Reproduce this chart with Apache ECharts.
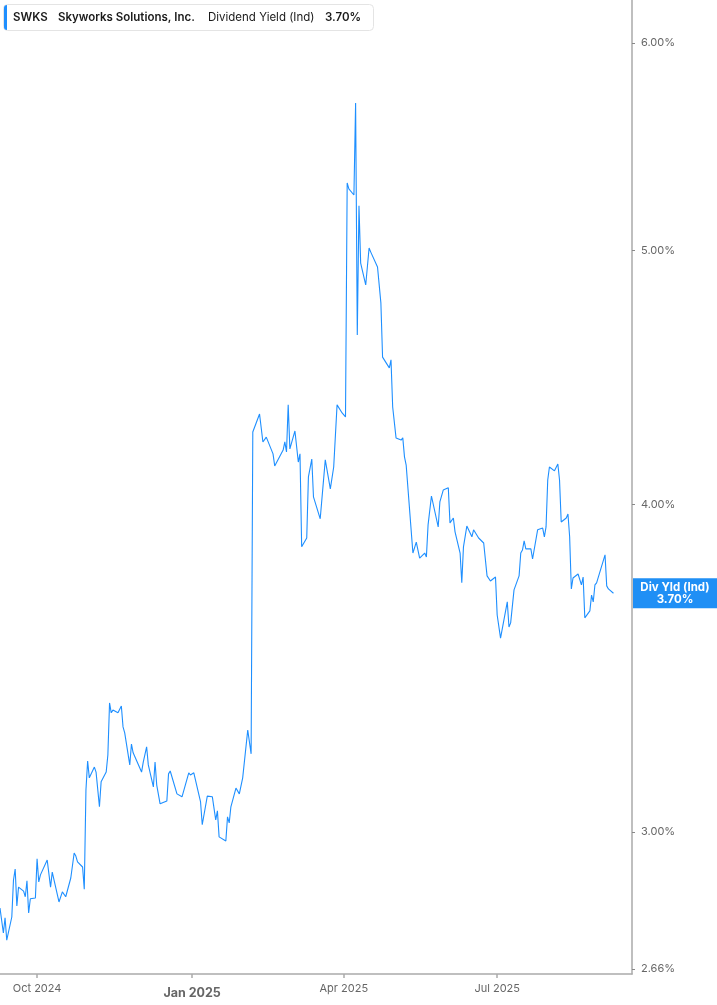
<!DOCTYPE html>
<html>
<head>
<meta charset="utf-8">
<script src="https://cdn.jsdelivr.net/npm/echarts@6/dist/echarts.min.js"></script>
<style>
html,body{margin:0;padding:0;background:#fff;}
#chart{width:717px;height:1005px;}
</style>
</head>
<body>
<div id="chart"></div>
<script>
const dates = [
'2024-09-09','2024-09-10','2024-09-11','2024-09-12','2024-09-13','2024-09-16','2024-09-17','2024-09-18','2024-09-19','2024-09-20',
'2024-09-23','2024-09-24','2024-09-25','2024-09-26','2024-09-27','2024-09-30','2024-10-01','2024-10-02','2024-10-03','2024-10-04',
'2024-10-07','2024-10-09','2024-10-10','2024-10-14','2024-10-16','2024-10-17','2024-10-18','2024-10-21','2024-10-23','2024-10-24',
'2024-10-25','2024-10-28','2024-10-29','2024-10-30','2024-10-31','2024-11-01','2024-11-04','2024-11-05','2024-11-07','2024-11-08',
'2024-11-11','2024-11-12','2024-11-13','2024-11-14','2024-11-15','2024-11-18','2024-11-20','2024-11-21','2024-11-22','2024-11-25',
'2024-11-26','2024-11-27','2024-12-02','2024-12-03','2024-12-04','2024-12-05','2024-12-06','2024-12-09','2024-12-10','2024-12-11',
'2024-12-12','2024-12-13','2024-12-17','2024-12-18','2024-12-19','2024-12-23','2024-12-26','2024-12-27','2024-12-30','2024-12-31',
'2025-01-02','2025-01-06','2025-01-07','2025-01-08','2025-01-10','2025-01-13','2025-01-15','2025-01-16','2025-01-17','2025-01-21',
'2025-01-22','2025-01-23','2025-01-24','2025-01-27','2025-01-29','2025-01-31','2025-02-03','2025-02-05','2025-02-06','2025-02-07',
'2025-02-10','2025-02-12','2025-02-14','2025-02-18','2025-02-19','2025-02-24','2025-02-25','2025-02-26','2025-02-27','2025-02-28',
'2025-03-03','2025-03-05','2025-03-06','2025-03-07','2025-03-10','2025-03-11','2025-03-13','2025-03-14','2025-03-18','2025-03-21',
'2025-03-24','2025-03-26','2025-03-28','2025-03-31','2025-04-02','2025-04-03','2025-04-04','2025-04-07','2025-04-08','2025-04-09',
'2025-04-10','2025-04-11','2025-04-14','2025-04-16','2025-04-17','2025-04-21','2025-04-23','2025-04-24','2025-04-25','2025-04-28',
'2025-04-29','2025-04-30','2025-05-02','2025-05-05','2025-05-06','2025-05-07','2025-05-08','2025-05-12','2025-05-14','2025-05-15',
'2025-05-16','2025-05-19','2025-05-20','2025-05-21','2025-05-23','2025-05-27','2025-05-28','2025-05-30','2025-06-02','2025-06-03',
'2025-06-04','2025-06-05','2025-06-06','2025-06-09','2025-06-10','2025-06-11','2025-06-13','2025-06-16','2025-06-17','2025-06-20',
'2025-06-23','2025-06-25','2025-06-27','2025-06-30','2025-07-01','2025-07-03','2025-07-07','2025-07-08','2025-07-09','2025-07-10',
'2025-07-11','2025-07-14','2025-07-15','2025-07-16','2025-07-17','2025-07-18','2025-07-21','2025-07-22','2025-07-25','2025-07-28',
'2025-07-29','2025-07-30','2025-07-31','2025-08-01','2025-08-04','2025-08-06','2025-08-07','2025-08-08','2025-08-11','2025-08-12',
'2025-08-13','2025-08-14','2025-08-15','2025-08-18','2025-08-20','2025-08-21','2025-08-22','2025-08-25','2025-08-26','2025-08-27',
'2025-08-28','2025-08-29','2025-09-03','2025-09-04','2025-09-05','2025-09-08'
];
const yields = [
2.806,2.809,2.745,2.782,2.728,2.784,2.876,2.904,2.811,2.858,
2.848,2.834,2.874,2.794,2.829,2.831,2.930,2.871,2.889,2.889,
2.927,2.858,2.896,2.821,2.846,2.851,2.834,2.881,2.945,2.937,
2.922,2.909,2.853,3.113,3.193,3.146,3.176,3.162,3.067,3.135,
3.162,3.210,3.360,3.331,3.339,3.331,3.351,3.290,3.273,3.182,
3.241,3.216,3.162,3.190,3.188,3.233,3.182,3.121,3.190,3.126,
3.121,3.075,3.083,3.157,3.165,3.102,3.094,3.094,3.160,3.154,
3.160,3.080,3.019,3.019,3.096,3.094,3.032,3.056,2.987,2.976,
3.040,3.024,3.067,3.118,3.102,3.146,3.281,3.213,4.263,4.263,
4.331,4.226,4.244,4.182,4.138,4.196,4.226,4.189,4.366,4.200,
4.267,4.152,4.182,3.854,3.884,4.098,4.163,4.027,3.950,4.160,
4.055,4.134,4.366,4.335,4.320,5.306,5.278,5.250,5.692,4.642,
5.200,4.945,4.851,5.011,4.993,4.928,4.775,4.553,4.549,4.510,
4.542,4.358,4.241,4.233,4.241,4.171,4.141,3.833,3.870,3.867,
3.816,3.833,3.820,3.929,4.030,3.922,4.009,4.051,4.059,3.936,
3.932,3.953,3.905,3.833,3.734,3.854,3.925,3.888,3.912,3.884,
3.867,3.757,3.740,3.753,3.630,3.557,3.672,3.592,3.605,3.601,
3.711,3.757,3.833,3.843,3.874,3.847,3.847,3.813,3.912,3.918,
3.888,3.922,4.087,4.134,4.120,4.145,4.087,3.939,3.953,3.967,
3.888,3.714,3.750,3.763,3.727,3.753,3.621,3.643,3.694,3.672,
3.727,3.734,3.827,3.724,3.714,3.700
];
const xTickDates = ['2024-10-01','2025-01-01','2025-04-01','2025-07-01'];
const xRange = ['2024-09-09','2025-09-19'];
const yTickValues = [2.66, 3, 4, 5, 6];
const monthNames = ['Jan','Feb','Mar','Apr','May','Jun','Jul','Aug','Sep','Oct','Nov','Dec'];
const ticker = 'SWKS';
const companyName = 'Skyworks Solutions, Inc.';
const metricName = 'Dividend Yield (Ind)';
const lastValueText = '3.70%';
const lastValue = 3.70;
const endLabelTitle = 'Div Yld (Ind)';

const FONT = 'Inter, Roboto, "Noto Sans", sans-serif';
const BLUE = '#1e8fff';
function ts(s) { return new Date(s + 'T00:00:00').getTime(); }

const chart = echarts.init(document.getElementById('chart'), null, {renderer: 'canvas'});
chart.setOption({
  animation: false,
  backgroundColor: '#ffffff',
  textStyle: {fontFamily: FONT},
  grid: {left: 0, right: 85, top: 0, bottom: 31},
  xAxis: {
    type: 'value',
    min: ts(xRange[0]),
    max: ts(xRange[1]),
    axisLine: {show: true, lineStyle: {color: '#aaaaaa', width: 1.5}},
    axisTick: {show: true, customValues: xTickDates.map(ts), length: 4, lineStyle: {color: '#aaaaaa', width: 1.5}},
    splitLine: {show: false},
    axisLabel: {
      customValues: xTickDates.map(ts),
      margin: 9,
      color: '#666666',
      fontSize: 11,
      fontFamily: FONT,
      formatter: function (v) {
        const d = new Date(v);
        const s = monthNames[d.getMonth()] + ' ' + d.getFullYear();
        return d.getMonth() === 0 ? '{b|' + s + '}' : s;
      },
      rich: {b: {fontWeight: 'bold', fontSize: 12.5, color: '#666666', fontFamily: FONT, padding: [4, 0, 0, 0]}}
    }
  },
  yAxis: {
    type: 'log',
    logBase: 10,
    position: 'right',
    min: 2.648,
    max: 6.231,
    axisLine: {show: true, lineStyle: {color: '#aaaaaa', width: 1.5}},
    axisTick: {show: true, customValues: yTickValues, length: 3, lineStyle: {color: '#888888'}},
    splitLine: {show: false},
    axisLabel: {
      customValues: yTickValues,
      margin: 9,
      color: '#666666',
      fontSize: 11,
      fontFamily: FONT,
      formatter: function (v) { return Number(v).toFixed(2) + '%'; }
    }
  },
  series: [{
    type: 'line',
    name: metricName,
    data: dates.map(function (d, i) { return [ts(d), yields[i]]; }),
    showSymbol: false,
    symbol: 'none',
    lineStyle: {color: BLUE, width: 1.1},
    itemStyle: {color: BLUE},
    markLine: {
      silent: true,
      symbol: ['none', 'none'],
      lineStyle: {color: 'rgba(0,0,0,0)', width: 0, type: 'solid'},
      data: [{yAxis: lastValue}],
      label: {
        show: true,
        position: 'end',
        distance: 1,
        backgroundColor: '#1f8ff5',
        padding: [3, 4],
        formatter: '{a|' + endLabelTitle + '}\n{a|' + lastValueText + '}',
        rich: {a: {width: 76, align: 'center', color: '#ffffff', fontWeight: 'bold', fontSize: 11.5, lineHeight: 12, fontFamily: FONT}}
      }
    }
  }],
  graphic: [{
    type: 'group',
    x: 0, y: 0,
    children: [
      {type: 'rect', shape: {x: 3.5, y: 4.5, width: 370, height: 26, r: 4}, style: {fill: '#ffffff', stroke: '#e4e4e4', lineWidth: 1}},
      {type: 'rect', shape: {x: 4, y: 5, width: 3, height: 25, r: [3, 0, 0, 3]}, style: {fill: BLUE}},
      {type: 'text', x: 13, y: 17.5, style: {text: ticker, fill: '#1a1a1a', font: '600 11.5px ' + FONT, textVerticalAlign: 'middle'}},
      {type: 'text', x: 58, y: 17.5, style: {text: companyName, fill: '#1a1a1a', font: '600 11.5px ' + FONT, textVerticalAlign: 'middle'}},
      {type: 'text', x: 208, y: 17.5, style: {text: metricName, fill: '#1a1a1a', font: '11.5px ' + FONT, textVerticalAlign: 'middle'}},
      {type: 'text', x: 325, y: 17.5, style: {text: lastValueText, fill: '#1a1a1a', font: '600 11.5px ' + FONT, textVerticalAlign: 'middle'}}
    ]
  }]
});
</script>
</body>
</html>
